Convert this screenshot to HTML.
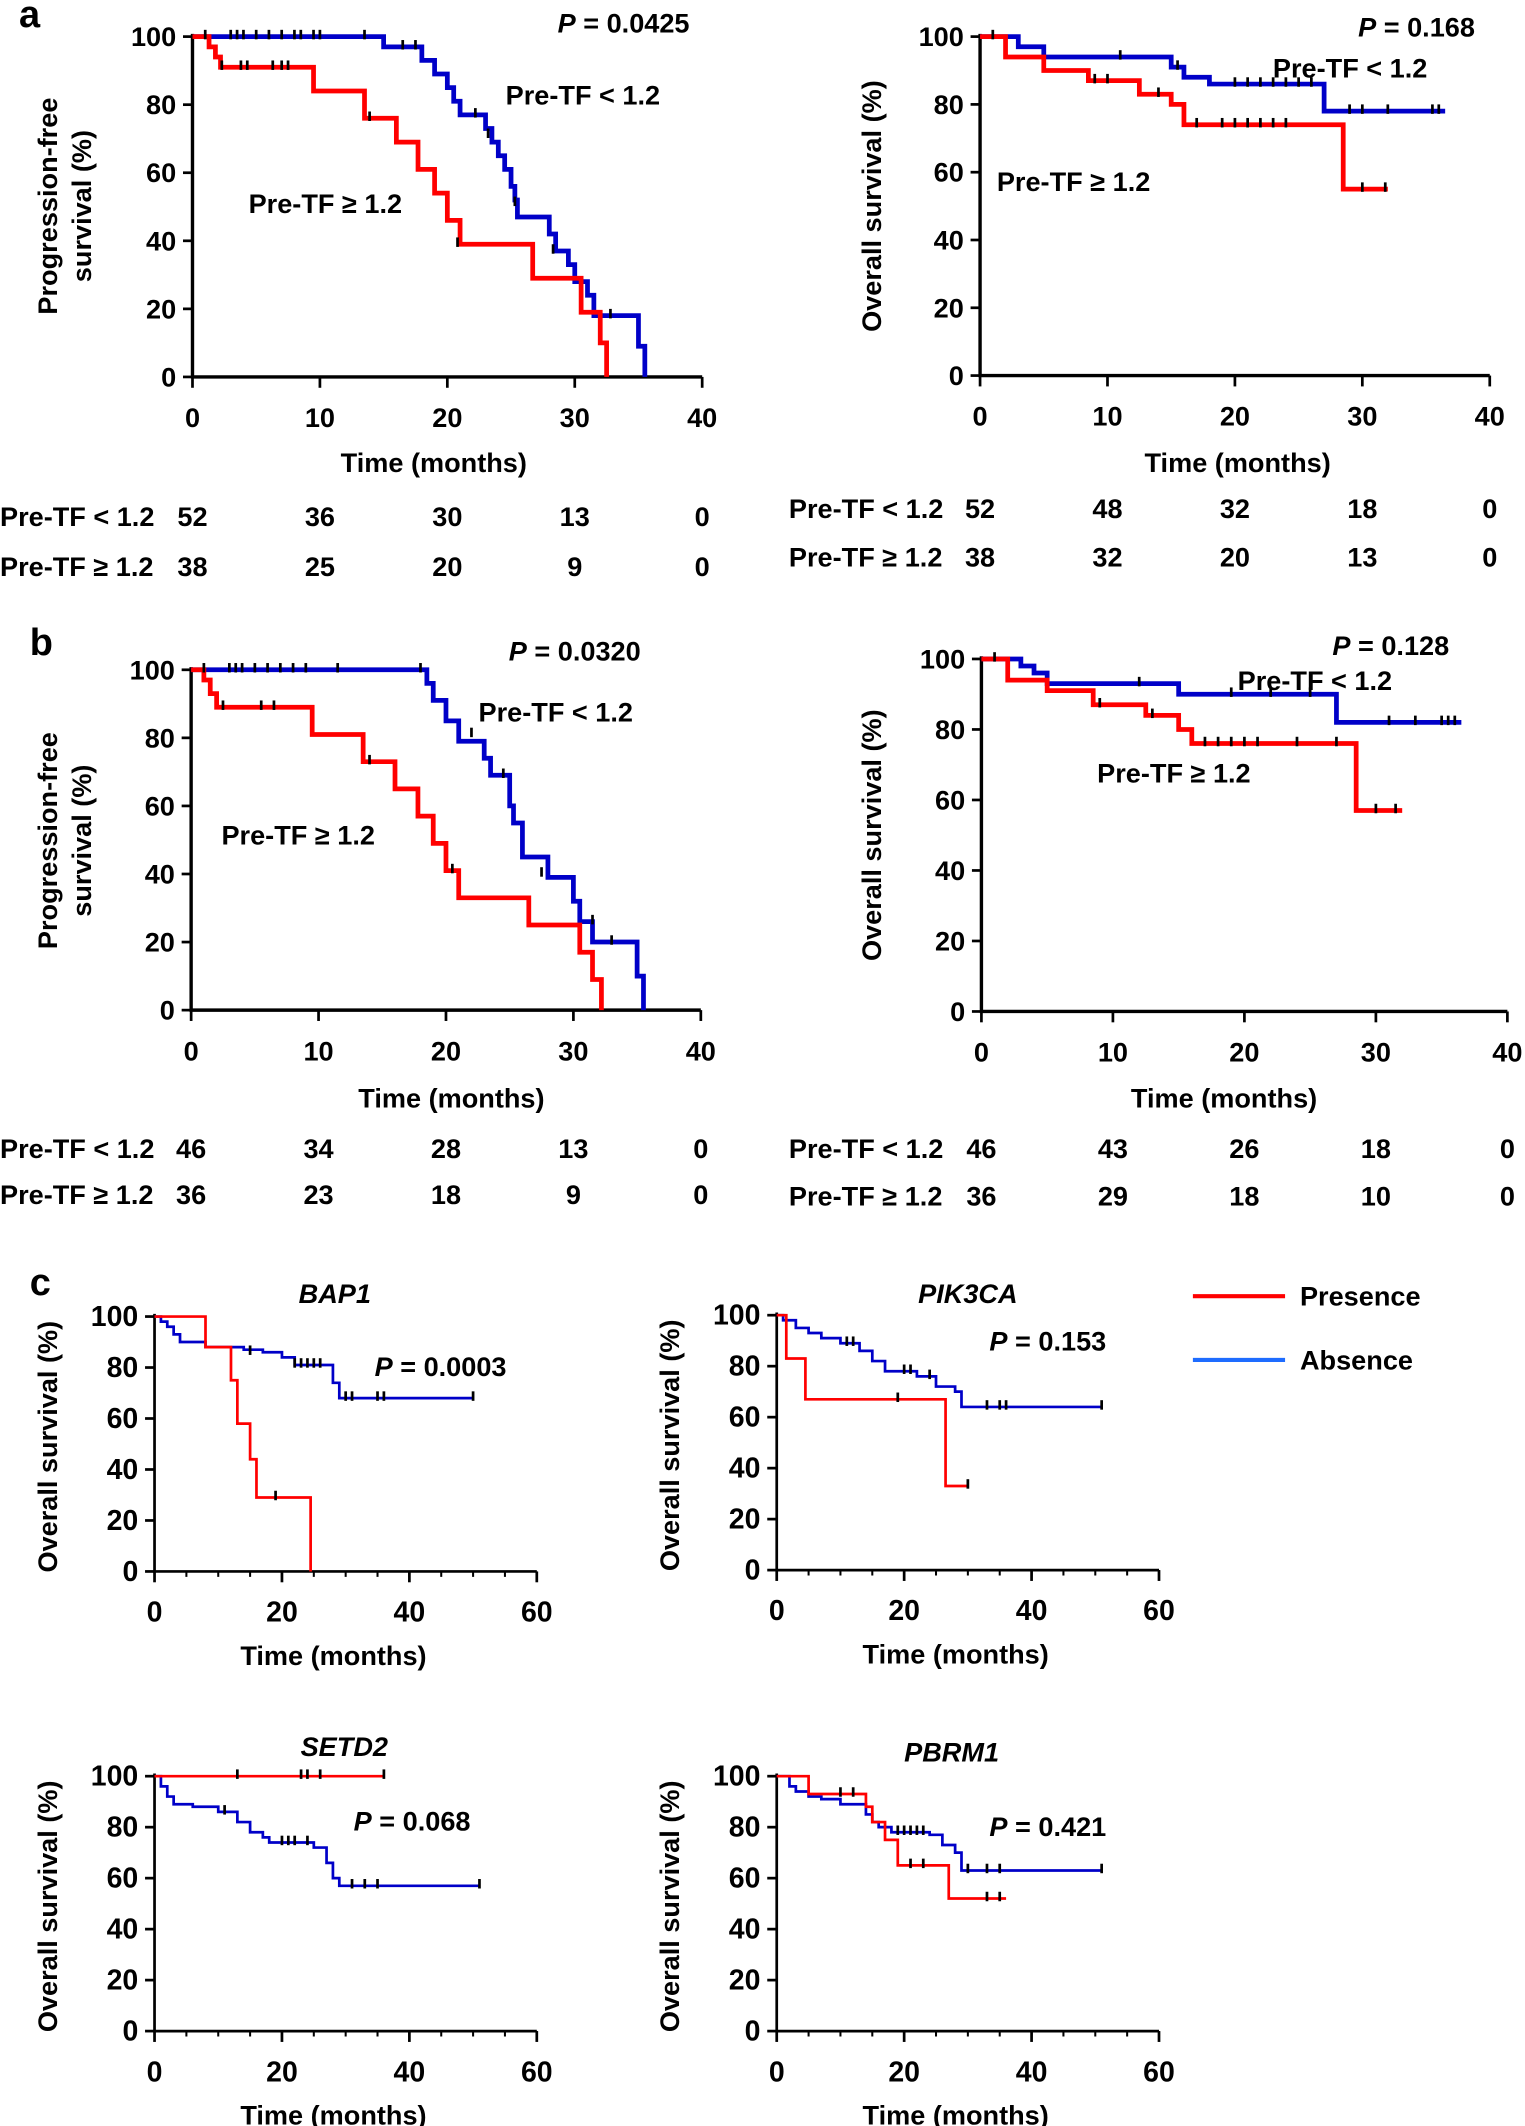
<!DOCTYPE html>
<html><head><meta charset="utf-8"><style>
html,body{margin:0;padding:0;background:#fff}
svg{display:block}
text{font-family:"Liberation Sans",Arial,sans-serif;font-weight:bold;fill:#000}
</style></head><body>
<svg id="s" xmlns="http://www.w3.org/2000/svg" width="1525" height="2126" viewBox="0 0 1125 1568" preserveAspectRatio="none"></svg>
<script>
const S=document.getElementById('s');let h='';
function T(x,y,s,fs,anc,extra){h+=`<text x="${x}" y="${y}" font-size="${fs||20}" text-anchor="${anc||'middle'}" ${extra||''}>${s}</text>`;}
function axes(o){
 const {x0,x1,y0,y1,xmax,xstep,lw}=o;
 h+=`<path d="M${x0} ${y1-2}V${y0}H${x1}" fill="none" stroke="#000" stroke-width="${lw||2.5}"/>`;
 for(let v=0;v<=100;v+=20){const y=y0-(y0-y1)*v/100;h+=`<line x1="${x0-7}" y1="${y}" x2="${x0}" y2="${y}" stroke="#000" stroke-width="2"/>`;T(x0-12,y+7,v,o.fs||20,'end');}
 for(let v=0;v<=xmax;v+=xstep){const x=x0+(x1-x0)*v/xmax;h+=`<line x1="${x}" y1="${y0}" x2="${x}" y2="${y0+8}" stroke="#000" stroke-width="2"/>`;T(x,y0+37,v,o.fs||20);}
 if(o.minor){for(let v=0;v<=xmax;v+=o.minor){const x=x0+(x1-x0)*v/xmax;h+=`<line x1="${x}" y1="${y0}" x2="${x}" y2="${y0+4}" stroke="#000" stroke-width="1.5"/>`;}}
}
function curve(o,pts,end,col,w){
 const X=t=>o.x0+(o.x1-o.x0)*t/o.xmax,Y=s=>o.y0-(o.y0-o.y1)*s/100;
 let d=`M${X(0)} ${Y(100)}`;
 for(const [t,s] of pts){d+=`H${X(t)}V${Y(s)}`;}
 if(end!=null)d+=`H${X(end)}`;
 h+=`<path d="${d}" fill="none" stroke="${col}" stroke-width="${w||3}"/>`;
}
function ticks(o,list){const X=t=>o.x0+(o.x1-o.x0)*t/o.xmax,Y=s=>o.y0-(o.y0-o.y1)*s/100;
 for(const [t,s] of list)h+=`<line x1="${X(t)}" y1="${Y(s)-5}" x2="${X(t)}" y2="${Y(s)+2}" stroke="#000" stroke-width="2"/>`;}
T(14,20,'a',28,'start');
let A={x0:142,x1:518,y0:278,y1:27,xmax:40,xstep:10};
axes(A);
curve(A,[[1.5,100],[15,97],[18,93],[19,89],[20,85],[20.5,81],[21,77],[23,73],[23.5,69],[24,65],[24.5,61],[25,56],[25.3,52],[25.5,47],[28,42],[28.5,37],[29.5,33],[30,28],[31,24],[31.5,18],[35,9],[35.5,0]],null,'#0000c8',3.5);
curve(A,[[1.3,97],[1.8,94],[2.2,91],[9.5,84],[13.5,76],[16,69],[17.7,61],[19,54],[20,46],[21,39],[26.7,29],[30.5,19],[32,10],[32.5,0]],null,'#ff0000',3.5);
ticks(A,[[1,100],[3,100],[3.5,100],[4,100],[5,100],[6,100],[7,100],[8,100],[8.5,100],[9.5,100],[10,100],[13.5,100],[16.5,97],[17.5,97],[22.2,77],[23.2,71],[25.3,51],[28.3,37],[32.8,18],[2.3,91],[3.8,91],[4.3,91],[6.3,91],[7,91],[7.5,91],[13.9,76],[20.8,39]]);
T(460,24,'<tspan font-style="italic">P</tspan> = 0.0425',20);
T(430,77,'Pre-TF &lt; 1.2',20);
T(240,157,'Pre-TF ≥ 1.2',20);
T(320,348,'Time (months)',20);
h+=`<text transform="translate(42,152) rotate(-90)" font-size="20" text-anchor="middle">Progression-free</text><text transform="translate(67,152) rotate(-90)" font-size="20" text-anchor="middle">survival (%)</text>`;
T(0,388,'Pre-TF &lt; 1.2',20,'start');T(0,425,'Pre-TF ≥ 1.2',20,'start');
[['52','36','30','13','0'],['38','25','20','9','0']].forEach((r,i)=>r.forEach((v,j)=>T(142+94*j,388+37*i,v,20)));
let B={x0:723,x1:1099,y0:277,y1:27,xmax:40,xstep:10};
axes(B);
curve(B,[[3,97],[5,94],[15,91],[16,88],[18,86],[27,78]],36.5,'#0000c8',3.5);
curve(B,[[2,94],[5,90],[8.5,87],[12.5,83],[15,80],[16,74],[28.5,55]],32,'#ff0000',3.5);
ticks(B,[[1,100],[11,94],[15.5,91],[20,86],[21,86],[22,86],[23,86],[24,86],[25,86],[26,86],[29,78],[30,78],[32,78],[35.5,78],[36,78],[9,87],[10,87],[14,83],[17,74],[19,74],[20,74],[21,74],[22,74],[23,74],[24,74],[30,55],[31.8,55]]);
T(1045,27,'<tspan font-style="italic">P</tspan> = 0.168',20);
T(996,57,'Pre-TF &lt; 1.2',20);
T(792,141,'Pre-TF ≥ 1.2',20);
T(913,348,'Time (months)',20);
h+=`<text transform="translate(650,152) rotate(-90)" font-size="20" text-anchor="middle">Overall survival (%)</text>`;
T(582,382,'Pre-TF &lt; 1.2',20,'start');T(582,418,'Pre-TF ≥ 1.2',20,'start');
[['52','48','32','18','0'],['38','32','20','13','0']].forEach((r,i)=>r.forEach((v,j)=>T(723+94*j,382+36*i,v,20)));
T(22,483,'b',28,'start');
let C={x0:141,x1:517,y0:745,y1:494,xmax:40,xstep:10};
axes(C);
curve(C,[[18.5,96],[19,91],[20,85],[21,79],[23,74],[23.5,69],[25,60],[25.3,55],[26,45],[28,39],[30,32],[30.5,26],[31.5,20],[35,10],[35.5,0]],null,'#0000c8',3.5);
curve(C,[[1,97],[1.5,93],[2,89],[9.5,81],[13.5,73],[16,65],[17.8,57],[19,49],[20,41],[21,33],[26.5,25],[30.5,17],[31.5,9],[32.2,0]],null,'#ff0000',3.5);
ticks(C,[[1,100],[3,100],[3.5,100],[4,100],[5,100],[6,100],[7,100],[8,100],[9,100],[11.5,100],[18,100],[22,81],[24.5,69],[27.5,40],[31.5,26],[33,20],[2.5,89],[5.5,89],[6.5,89],[14,73],[20.5,41]]);
T(424,487,'<tspan font-style="italic">P</tspan> = 0.0320',20);
T(410,532,'Pre-TF &lt; 1.2',20);
T(220,623,'Pre-TF ≥ 1.2',20);
T(333,817,'Time (months)',20);
h+=`<text transform="translate(42,620) rotate(-90)" font-size="20" text-anchor="middle">Progression-free</text><text transform="translate(67,620) rotate(-90)" font-size="20" text-anchor="middle">survival (%)</text>`;
T(0,854,'Pre-TF &lt; 1.2',20,'start');T(0,888,'Pre-TF ≥ 1.2',20,'start');
[['46','34','28','13','0'],['36','23','18','9','0']].forEach((r,i)=>r.forEach((v,j)=>T(141+94*j,854+34*i,v,20)));
let D={x0:724,x1:1112,y0:746,y1:486,xmax:40,xstep:10};
axes(D);
curve(D,[[3,98],[4,96],[5,93],[15,90],[27,82]],36.5,'#0000c8',3.5);
curve(D,[[2,94],[5,91],[8.5,87],[12.5,84],[15,80],[16,76],[28.5,57]],32,'#ff0000',3.5);
ticks(D,[[1,100],[12,93],[19,90],[22,90],[25,90],[31,82],[33,82],[35,82],[35.5,82],[36,82],[9,87],[13,84],[17,76],[18,76],[19,76],[20,76],[21,76],[24,76],[27,76],[30,57],[31.5,57]]);
T(1026,483,'<tspan font-style="italic">P</tspan> = 0.128',20);
T(970,509,'Pre-TF &lt; 1.2',20);
T(866,577,'Pre-TF ≥ 1.2',20);
T(903,817,'Time (months)',20);
h+=`<text transform="translate(650,616) rotate(-90)" font-size="20" text-anchor="middle">Overall survival (%)</text>`;
T(582,854,'Pre-TF &lt; 1.2',20,'start');T(582,889,'Pre-TF ≥ 1.2',20,'start');
[['46','43','26','18','0'],['36','29','18','10','0']].forEach((r,i)=>r.forEach((v,j)=>T(724+97*j,854+35*i,v,20)));
T(22,955,'c',28,'start');
function cp(o,title,tx,ty,p,px,py,yl,blue,bend,red,rend,bt,rt){
 axes(Object.assign(o,{xmax:60,xstep:20,minor:5,lw:2,fs:21}));
 curve(o,blue,bend,'#0000c8',2);curve(o,red,rend,'#ff0000',2);
 ticks(o,bt);ticks(o,rt);
 T(tx,ty,title,20,'middle','font-style="italic"');
 T(px,py,'<tspan font-style="italic">P</tspan> = '+p,20);
 T(o.x0+(o.x1-o.x0)/2-9,o.y0+69,'Time (months)',20);
 h+=`<text transform="translate(${o.x0-72},${(o.y0+o.y1)/2+2}) rotate(-90)" font-size="20" text-anchor="middle">${yl}</text>`;
}
const OS='Overall survival (%)';
cp({x0:114,x1:396,y0:1159,y1:971},'BAP1',247,961,'0.0003',325,1015,OS,
 [[1,98],[2,96],[3,93],[4,90],[8,88],[14,87],[17,86],[20,84],[22,81],[28,74],[29,68]],50,
 [[8,88],[12,75],[13,58],[15,44],[16,29],[24.5,0]],null,
 [[15,86],[22,81],[23,81],[24,81],[25,81],[26,81],[30,68],[31,68],[35,68],[36,68],[50,68]],[[19,29]]);
cp({x0:573,x1:855,y0:1158,y1:970},'PIK3CA',714,961,'0.153',773,996,OS,
 [[1,98],[3,95],[5,93],[7,91],[10,89],[13,86],[15,82],[17,78],[22,76],[25,72],[28,70],[29,64]],51,
 [[1.5,83],[4.5,67],[26.5,33]],30,
 [[11,89],[12,89],[20,78],[21,78],[24,76],[33,64],[35,64],[36,64],[51,64]],[[19,67],[30,33]]);
cp({x0:114,x1:396,y0:1498,y1:1310},'SETD2',254,1295,'0.068',304,1350,OS,
 [[1,96],[2,92],[3,89],[6,88],[10,86],[13,82],[15,78],[17,76],[18,74],[25,72],[27,66],[28,60],[29,57]],51,
 [],36,
 [[11,86],[20,74],[21,74],[22,74],[24,74],[31,57],[33,57],[35,57],[51,57]],[[13,100],[23,100],[24,100],[26,100],[36,100]]);
cp({x0:573,x1:855,y0:1498,y1:1310},'PBRM1',702,1299,'0.421',773,1354,OS,
 [[2,96],[3,94],[5,92],[7,91],[10,89],[14,85],[15,82],[16,80],[18,78],[24,77],[26,73],[28,70],[29,63]],51,
 [[5,93],[14,88],[15,82],[17,75],[19,65],[26,65],[27,52]],36,
 [[19,78],[20,78],[21,78],[22,78],[23,78],[30,63],[33,63],[35,63],[51,63]],[[10,93],[12,93],[21,65],[23,65],[33,52],[35,52]]);
h+=`<line x1="880" y1="956" x2="948" y2="956" stroke="#ff0000" stroke-width="3"/><line x1="880" y1="1003" x2="948" y2="1003" stroke="#1e6cff" stroke-width="3"/>`;
T(959,963,'Presence',20,'start');T(959,1010,'Absence',20,'start');
S.innerHTML=h;
</script>
</body></html>
